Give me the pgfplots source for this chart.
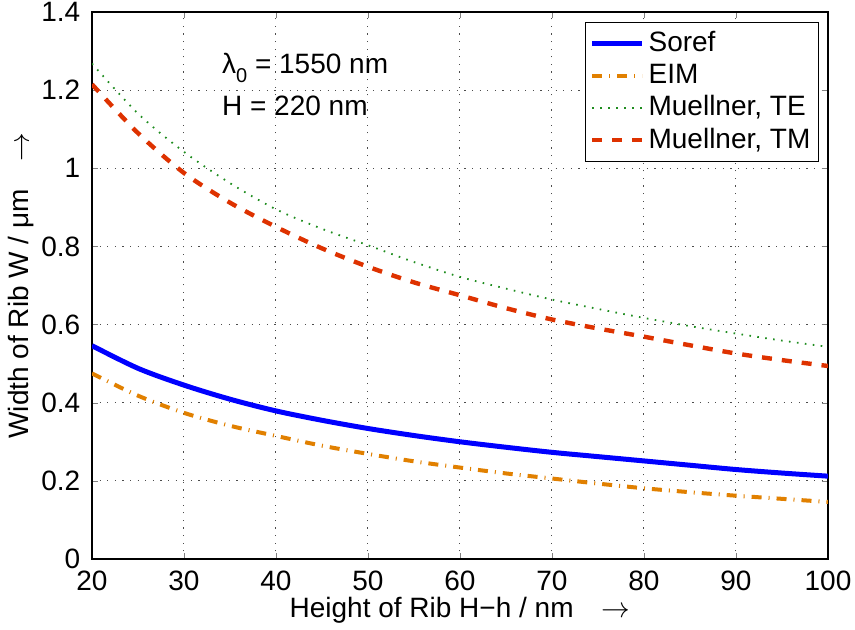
\documentclass[border=0pt]{standalone}
\usepackage{fontspec}
\setmainfont{Liberation Sans}
\usepackage{pgfplots}
\pgfplotsset{compat=1.18}
\definecolor{cSoref}{RGB}{0,0,255}
\definecolor{cEIM}{RGB}{225,128,0}
\definecolor{cTE}{RGB}{30,140,30}
\definecolor{cTM}{RGB}{222,50,0}
\begin{document}
\fontsize{14bp}{17bp}\selectfont
\begin{tikzpicture}
\useasboundingbox (-46bp,-35.5bp) rectangle (381.5bp,279.5bp);
\begin{axis}[
  at={(0,0)}, anchor=south west,
  scale only axis,
  width=368bp, height=273.5bp,
  xmin=20, xmax=100, ymin=0, ymax=1.4,
  xtick={20,30,...,100},
  ytick={0,0.2,0.4,0.6,0.8,1,1.2,1.4},
  /pgf/number format/assume math mode=true,
  tick label style={font=\fontsize{14bp}{17bp}\selectfont},
  label style={font=\fontsize{14bp}{17bp}\selectfont},
  xlabel={Height of Rib H−h / nm\quad$\rightarrow$},
  ylabel={Width of Rib W / μm\quad$\rightarrow$},
  xlabel style={at={(axis description cs:0.5,0)}, anchor=north, yshift=-14bp},
  ylabel style={at={(axis description cs:0,0.5)}, anchor=south, yshift=24bp},
  xticklabel style={yshift=-1bp},
  yticklabel style={xshift=-1bp},
  tick align=inside, tick pos=both,
  major tick length=3bp,
  grid=major,
  major grid style={black!70, line width=0.5bp, dash pattern=on 0.6bp off 3.2bp},
  axis line style={line width=0.6bp},
  legend style={at={(1,1)}, anchor=north east, xshift=-4.5bp, yshift=-5bp,
    font=\fontsize{14bp}{17bp}\selectfont, draw=black, line width=0.6bp,
    inner xsep=2bp, inner ysep=2.5bp, row sep=0bp},
  legend cell align=left,
  legend image code/.code={\draw[#1] (0bp,0bp) -- (25bp,0bp);},
  every axis plot/.append style={smooth, line join=round},
]
\addplot[cSoref, line width=2.5bp] coordinates {
(20,0.546) (25,0.488) (30,0.445) (35,0.409) (40,0.379) (45,0.355) (50,0.334) (55,0.316) (60,0.300) (65,0.286) (70,0.273) (75,0.262) (80,0.251) (85,0.240) (90,0.229) (95,0.220) (100,0.212)};
\addlegendentry{Soref}
\addplot[cEIM, line width=2bp, dash pattern=on 5bp off 3.5bp on 0.5bp off 3.5bp] coordinates {
(20,0.475) (25,0.418) (30,0.374) (35,0.341) (40,0.315) (45,0.290) (50,0.269) (55,0.250) (60,0.234) (65,0.219) (70,0.206) (75,0.193) (80,0.181) (85,0.171) (90,0.162) (95,0.154) (100,0.146)};
\addlegendentry{EIM}
\addplot[cTE, line width=0.9bp, dash pattern=on 0.8bp off 3.2bp] coordinates {
(20,1.268) (25,1.140) (30,1.042) (35,0.962) (40,0.895) (45,0.845) (50,0.803) (55,0.760) (60,0.722) (65,0.692) (70,0.664) (75,0.640) (80,0.617) (85,0.596) (90,0.577) (95,0.559) (100,0.543)};
\addlegendentry{Muellner, TE}
\addplot[cTM, line width=2.2bp, dash pattern=on 5bp off 5bp] coordinates {
(20,1.215) (25,1.090) (30,0.988) (35,0.912) (40,0.850) (45,0.795) (50,0.748) (55,0.708) (60,0.675) (65,0.642) (70,0.613) (75,0.590) (80,0.569) (85,0.547) (90,0.526) (95,0.509) (100,0.494)};
\addlegendentry{Muellner, TM}
\node[anchor=west, inner sep=0pt] at (axis cs:34.1,1.256) {λ\raisebox{-0.6ex}{\fontsize{10bp}{12bp}\selectfont 0} = 1550 nm};
\node[anchor=west, inner sep=0pt] at (axis cs:34.1,1.161) {H = 220 nm};
\end{axis}
\end{tikzpicture}
\end{document}
